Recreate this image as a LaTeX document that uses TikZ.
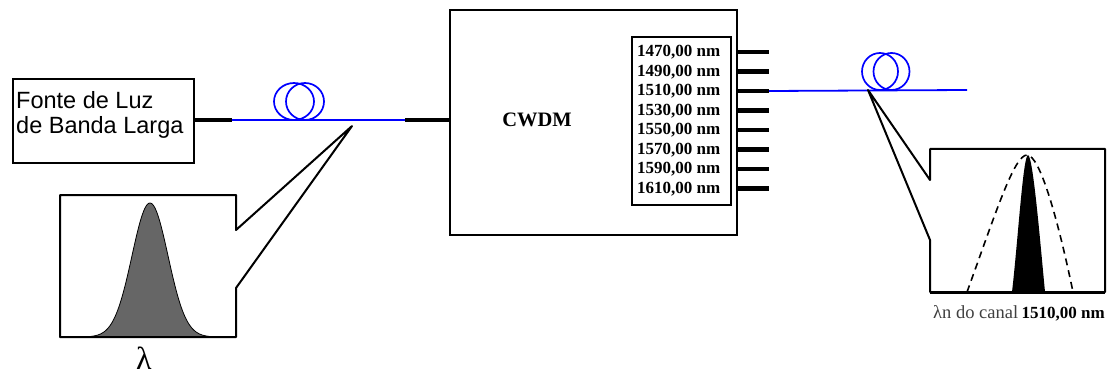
\documentclass[tikz,border=0pt]{standalone}
\usepackage{fontspec}
\setmainfont{Liberation Serif}
\newfontfamily\arialf{Liberation Sans}
\begin{document}
\begin{tikzpicture}[x=1pt,y=-1pt,
  box/.style={draw, line width=2pt},
  stub/.style={line width=4.5pt},
  fiber/.style={draw=blue, line width=1.8pt},
  coil/.style={draw=blue, line width=1.7pt},
  portlbl/.style={anchor=base west, inner sep=0pt, font=\bfseries\fontsize{17}{18}\selectfont},
]
\useasboundingbox (0,0) rectangle (1107,374);

% source
\node[box, anchor=north west, minimum width=181pt, minimum height=84pt, inner sep=0pt] (src) at (12,78) {};
\node[anchor=north west, inner sep=0pt, align=left, font=\arialf\fontsize{23.5}{25}\selectfont] (srctext) at (16,91) {Fonte de Luz\\de Banda Larga};

% CWDM
\node[box, anchor=north west, minimum width=287pt, minimum height=225pt, inner sep=0pt] (cwdm) at (449,9) {};
\node[font=\bfseries\fontsize{20.5}{24}\selectfont] (cwdmlbl) at (537,120) {CWDM};
\node[draw, line width=1.8pt, anchor=north west, minimum width=99pt, minimum height=168pt, inner sep=0pt] (ports) at (631,36) {};
\foreach \i/\w in {0/1470,1/1490,2/1510,3/1530,4/1550,5/1570,6/1590,7/1610} {
  \pgfmathsetmacro\yy{57+19.5*\i}
  \node[portlbl] (l\i) at (637,\yy) {\w,00 nm};
  \coordinate (p\i) at (769,\yy-5);
  \draw[stub] (cwdm.east |- p\i) -- (p\i);
}

% left fiber
\coordinate (fa) at (232,120);
\coordinate (fb) at (405,120);
\draw[stub] (src.east |- fa) -- (fa);
\draw[fiber] (fa) -- (fb);
\draw[stub] (fb) -- (cwdm.west |- fb);
\draw[coil] (294,101.5) ellipse [x radius=20pt, y radius=18.5pt];
\draw[coil] (305,101.5) ellipse [x radius=19pt, y radius=18.5pt];

% right fiber
\coordinate (fr) at (967,90);
\draw[fiber] (p2) -- (fr);
\draw[coil] (880,71.5) ellipse [x radius=18pt, y radius=18.5pt];
\draw[coil] (891.5,71.5) ellipse [x radius=18pt, y radius=18.5pt];

% left spectrum callout
\coordinate (tapL) at (352,126);
\draw[box, line join=round] (236,288) -- (tapL) -- (236,230) -- (236,195) -- (60,195) -- (60,337) -- (236,337) -- cycle;
\filldraw[fill=black!60, draw=black, line width=0.8pt]
  plot[domain=61:235, samples=140] (\x,{337-134*exp(-0.5*((\x-150)/18)*((\x-150)/18))}) -- cycle;
\draw[line width=2.5pt] (60,337) -- (236,337);
\node[anchor=base, inner sep=0pt, font=\fontsize{32}{34}\selectfont] (lam) at (144,369) {λ};

% right spectrum callout
\coordinate (tapR) at (868,90);
\draw[box, line join=round] (930,240) -- (tapR) -- (930,180) -- (930,149) -- (1105,149) -- (1105,292) -- (930,292) -- cycle;
\draw[line width=1.6pt, dash pattern=on 7pt off 5pt] (967,292) .. controls (995,215) and (1014,155) .. (1027,155) .. controls (1040,155) and (1058,220) .. (1073,292);
\fill (1012,292) .. controls (1018,240) and (1023,156) .. (1028,155) .. controls (1033,156) and (1040,240) .. (1045,292) -- cycle;
\draw[line width=3pt] (930,292) -- (1105,292);
\node[anchor=base west, inner sep=0pt, text=black!75, font=\fontsize{18.5}{21}\selectfont] (chan) at (933,318) {λn do canal};
\node[anchor=base east, inner sep=0pt, font=\bfseries\fontsize{17}{18}\selectfont] (chanw) at (1105,318) {1510,00 nm};
\end{tikzpicture}
\end{document}
